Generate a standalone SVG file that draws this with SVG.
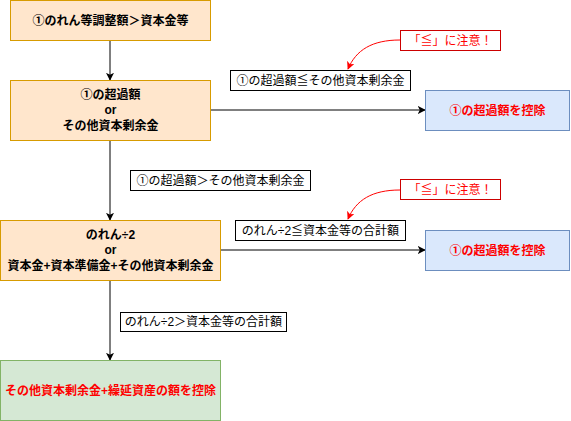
<svg xmlns="http://www.w3.org/2000/svg" width="571" height="421" viewBox="0 0 571 421">
<defs>
<marker id="ah" viewBox="0 0 10 10" refX="9" refY="5" markerWidth="8" markerHeight="8" markerUnits="userSpaceOnUse" orient="auto"><path d="M0,0 L10,5 L0,10 L2.5,5 Z" fill="#000"/></marker>
<marker id="ahr" viewBox="0 0 10 10" refX="9" refY="5" markerWidth="8" markerHeight="8" markerUnits="userSpaceOnUse" orient="auto"><path d="M0,0 L10,5 L0,10 L2.5,5 Z" fill="#ff0000"/></marker>
</defs>
<style>
text{font-family:"Liberation Sans","Noto Sans CJK JP",sans-serif;font-size:12px;text-anchor:middle;dominant-baseline:central;fill:#000}
.b{font-weight:bold}
.r{fill:#ff0000}
.or{fill:#ffe6cc;stroke:#d79b00}
.bl{fill:#dae8fc;stroke:#6c8ebf}
.gr{fill:#d5e8d4;stroke:#82b366}
.lb{fill:#fff;stroke:#000}
.nt{fill:#fff;stroke:#cc0000}
.c{stroke:#000;fill:none}
.cr{stroke:#ff0000;fill:none}
</style>
<rect width="571" height="421" fill="#fff"/>
<g id="connectors">
<line class="c" x1="110" y1="40" x2="110" y2="80" marker-end="url(#ah)"/>
<line class="c" x1="210" y1="110" x2="425" y2="110" marker-end="url(#ah)"/>
<line class="c" x1="110" y1="140" x2="110" y2="220" marker-end="url(#ah)"/>
<line class="c" x1="220" y1="250" x2="425" y2="250" marker-end="url(#ah)"/>
<line class="c" x1="110" y1="280" x2="110" y2="360" marker-end="url(#ah)"/>
<path class="cr" d="M400,40 C372,40 356,50 348,69" marker-end="url(#ahr)"/>
<path class="cr" d="M400,190 C372,190 356,200 348,219" marker-end="url(#ahr)"/>
</g>
<g id="n1"><rect class="or" x="10.5" y="0.5" width="200" height="40"/><text class="b" x="110.5" y="20.5">①のれん等調整額＞資本金等</text></g>
<g id="n2"><rect class="or" x="10.5" y="80.5" width="200" height="60"/><text class="b" x="110.5" y="95">①の超過額</text><text class="b" x="110.5" y="110">or</text><text class="b" x="110.5" y="125.5">その他資本剰余金</text></g>
<g id="n3"><rect class="or" x="0.5" y="220.5" width="220" height="60"/><text class="b" x="110.5" y="235">のれん÷2</text><text class="b" x="110.5" y="250">or</text><text class="b" x="110.5" y="265.5">資本金+資本準備金+その他資本剰余金</text></g>
<g id="n4"><rect class="gr" x="0.5" y="360.5" width="220" height="60"/><text class="b r" x="110.5" y="390.5">その他資本剰余金+繰延資産の額を控除</text></g>
<g id="b1"><rect class="bl" x="425.5" y="90.5" width="144" height="40"/><text class="b r" x="497.5" y="110.5">①の超過額を控除</text></g>
<g id="b2"><rect class="bl" x="425.5" y="230.5" width="144" height="40"/><text class="b r" x="497.5" y="250.5">①の超過額を控除</text></g>
<g id="l1"><rect class="lb" x="230.5" y="70.5" width="180" height="20"/><text x="320.5" y="80.5">①の超過額≦その他資本剰余金</text></g>
<g id="l2"><rect class="lb" x="130.5" y="170.5" width="180" height="20"/><text x="220.5" y="180.5">①の超過額＞その他資本剰余金</text></g>
<g id="l3"><rect class="lb" x="235.5" y="220.5" width="170" height="20"/><text x="320.5" y="230.5">のれん÷2≦資本金等の合計額</text></g>
<g id="l4"><rect class="lb" x="120.5" y="312.5" width="166" height="19"/><text x="203.5" y="322">のれん÷2＞資本金等の合計額</text></g>
<g id="note1"><rect class="nt" x="400.5" y="30.5" width="100" height="20"/><text class="r" x="450.5" y="40.5">「≦」に注意！</text></g>
<g id="note2"><rect class="nt" x="400.5" y="179.5" width="100" height="20"/><text class="r" x="450.5" y="189.5">「≦」に注意！</text></g>
</svg>
